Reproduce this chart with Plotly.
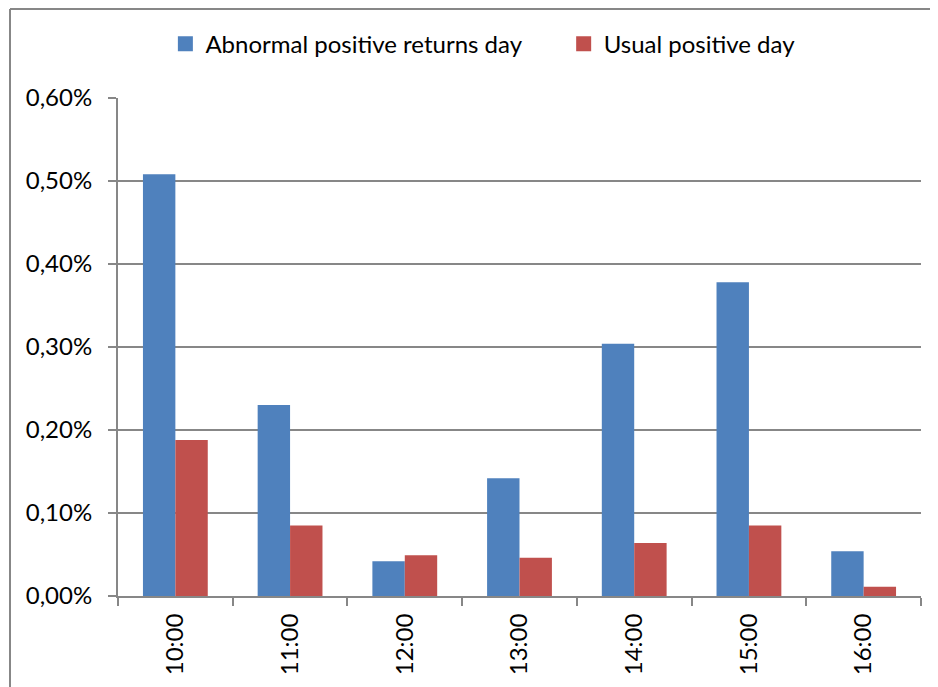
import plotly.graph_objects as go

# hourly returns (fraction, shown as %)
hours = ["10:00", "11:00", "12:00", "13:00", "14:00", "15:00", "16:00"]
abnormal_day = [0.00508, 0.00230, 0.00042, 0.00142, 0.00304, 0.00378, 0.00054]
usual_day = [0.00188, 0.00085, 0.00049, 0.00046, 0.00064, 0.00085, 0.00011]

series_names = ["Abnormal positive returns day", "Usual positive day"]
series_colors = ["#4F81BD", "#C0504D"]

font_family = "Lato, Carlito, 'Open Sans', sans-serif"
axis_grey = "#878787"

fig = go.Figure()
for vals, name, color in zip([abnormal_day, usual_day], series_names, series_colors):
    fig.add_trace(go.Bar(x=hours, y=vals, name=name, showlegend=False,
                         marker=dict(color=color, line=dict(width=0))))

# legend entries with larger square swatches (Excel style), one legend box each
for name, color, leg in zip(series_names, series_colors, ["legend", "legend2"]):
    fig.add_trace(go.Scatter(x=[None], y=[None], mode="markers", name=name, legend=leg,
                             marker=dict(symbol="square", size=15, color=color)))

legend_style = dict(orientation="h", y=1.108, xanchor="left", yanchor="middle",
                    font=dict(size=24), itemwidth=30)

# page body adds an 8px offset, margins compensate for it
fig.update_layout(
    width=938, height=687,
    margin=dict(l=110, r=25, t=90, b=99),
    paper_bgcolor="white", plot_bgcolor="white",
    separators=",.",
    barmode="group", bargap=0.435, bargroupgap=0,
    font=dict(family=font_family, size=24, color="black"),
    legend=dict(x=0.059, **legend_style),
    legend2=dict(x=0.555, **legend_style),
)

fig.update_yaxes(
    range=[0, 0.006], dtick=0.001, tickformat=".2%",
    showgrid=True, gridcolor=axis_grey, gridwidth=1.5,
    showline=True, linecolor=axis_grey, linewidth=2,
    ticks="outside", ticklen=8, tickcolor=axis_grey, tickwidth=2,
    ticklabelstandoff=11, zeroline=False, automargin=False,
)
fig.update_xaxes(
    tickangle=-90, tickson="boundaries",
    showline=True, linecolor=axis_grey, linewidth=2,
    ticks="outside", ticklen=8, tickcolor=axis_grey, tickwidth=2,
    ticklabelstandoff=6, showgrid=False, automargin=False,
)

# outer chart border (only left and top edges are in frame)
fig.add_shape(type="line", xref="paper", yref="paper", x0=-0.1345, x1=-0.1345, y0=-0.3, y1=1.1787,
              line=dict(color=axis_grey, width=2))
fig.add_shape(type="line", xref="paper", yref="paper", x0=-0.1345, x1=1.1, y0=1.1787, y1=1.1787,
              line=dict(color=axis_grey, width=2))

fig.write_html("out.html")
